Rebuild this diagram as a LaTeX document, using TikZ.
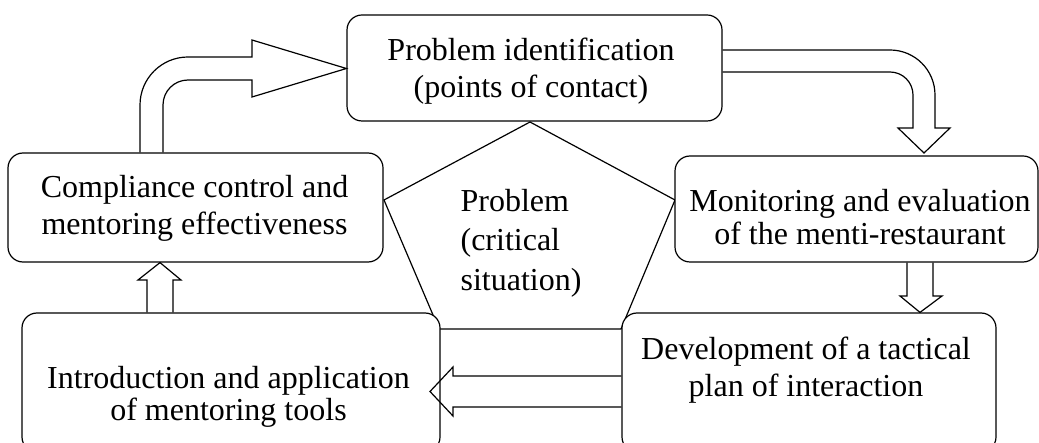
\documentclass[tikz,border=0pt]{standalone}
\usepackage{fontspec}
\setmainfont{Liberation Serif}
\begin{document}
\begin{tikzpicture}[x=1pt,y=-1pt,line width=1.2pt,line join=miter,
  box/.style={draw,rounded corners=15pt,inner sep=0pt,fill=white},
  lbl/.style={anchor=base,inner sep=0pt,font=\fontsize{32}{36.8}\selectfont},
  lbltight/.style={anchor=base,inner sep=0pt,font=\fontsize{32}{32}\selectfont},
  lblwide/.style={anchor=base west,inner sep=0pt,font=\fontsize{32}{39.5}\selectfont},
  barrow/.style={draw}]
\clip (0,0) rectangle (1039,443);
% central pentagon
\coordinate (p1) at (530,122);
\coordinate (p2) at (675,200);
\coordinate (p3) at (621,329);
\coordinate (p4) at (439,329);
\coordinate (p5) at (384,200);
\draw (p1) -- (p2) -- (p3) -- (p4) -- (p5) -- cycle;
% boxes
\node[box,minimum width=375pt,minimum height=106pt] (top) at (534.5,68) {};
\node[box,minimum width=375pt,minimum height=109pt] (comp) at (195.5,207.5) {};
\node[box,minimum width=363pt,minimum height=106pt] (mon) at (856.5,209) {};
\node[box,minimum width=374pt,minimum height=139pt] (dev) at (809,382.5) {};
\node[box,minimum width=418pt,minimum height=139pt] (intro) at (231,382.5) {};
% texts
\node[lbl] (toptext) at (531,60.5) {\begin{tabular}[t]{@{}c@{}}Problem identification\\(points of contact)\end{tabular}};
\node[lbl] (comptext) at (194.5,197.5) {\begin{tabular}[t]{@{}c@{}}Compliance control and\\mentoring effectiveness\end{tabular}};
\node[lbltight] (montext) at (860,212) {\begin{tabular}[t]{@{}c@{}}Monitoring and evaluation\\of the menti-restaurant\end{tabular}};
\node[lbl] (devtext) at (806,360) {\begin{tabular}[t]{@{}c@{}}Development of a tactical\\plan of interaction\end{tabular}};
\node[lbltight] (introtext) at (228.5,388.5) {\begin{tabular}[t]{@{}c@{}}Introduction and application\\of mentoring tools\end{tabular}};
\node[lblwide] (probtext) at (460,211.5) {\begin{tabular}[t]{@{}l@{}}Problem\\(critical\\situation)\end{tabular}};
% block arrows
\draw[barrow] (140,0 |- comp.north) -- (140,105) arc (180:270:48) -- (252,57) -- (252,40)
  -- (top.west |- 0,68.5) -- (252,97) -- (252,80) -- (188,80) arc (270:180:25) -- (163,0 |- comp.north);
\draw[barrow] (top.east |- 0,50) -- (890,50) arc (270:360:45) -- (935,128) -- (950,128)
  -- (924,153) -- (898,128) -- (913,128) -- (913,95) arc (0:-90:23) -- (top.east |- 0,72);
\draw[barrow] (907,0 |- mon.south) -- (907,296) -- (900,296) -- (920,0 |- dev.north)
  -- (942,296) -- (933,296) -- (933,0 |- mon.south);
\draw[barrow] (dev.west |- 0,376) -- (453,376) -- (453,367) -- (430,391.5)
  -- (453,416) -- (453,407) -- (dev.west |- 0,407);
\draw[barrow] (147,0 |- intro.north) -- (147,280) -- (138,280) -- (160,0 |- comp.south)
  -- (181,280) -- (173,280) -- (173,0 |- intro.north);
\end{tikzpicture}
\end{document}
